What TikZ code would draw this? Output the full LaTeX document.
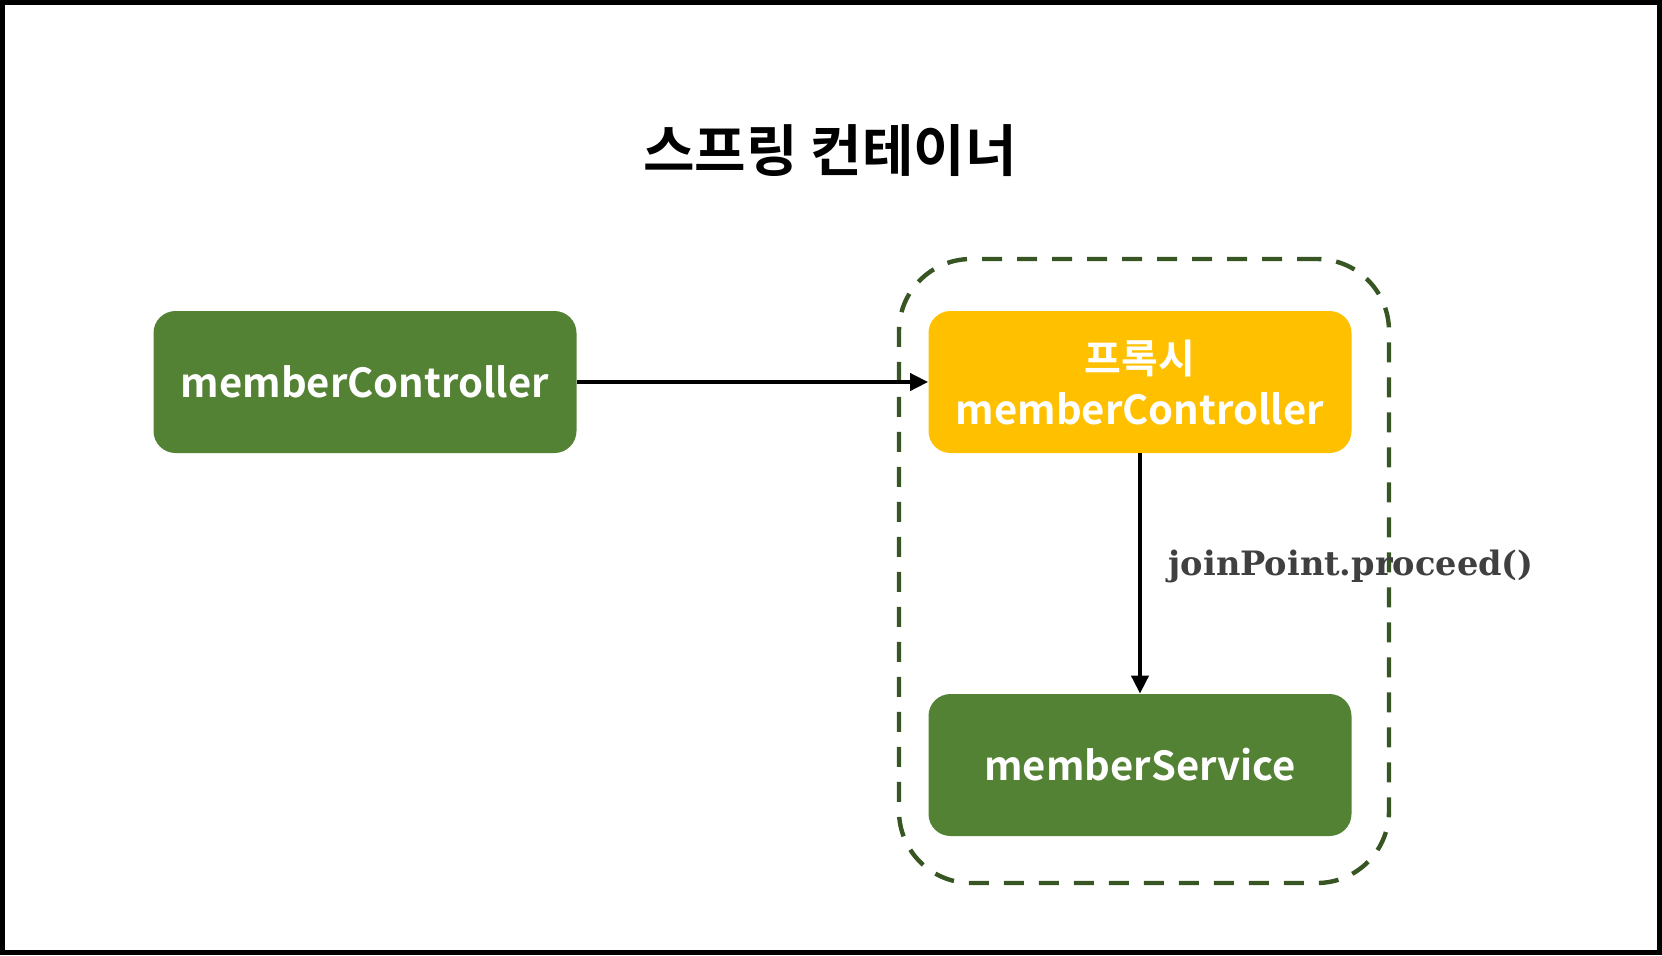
\documentclass[tikz,border=0pt]{standalone}
\usepackage{fontspec}
\setmainfont{Noto Sans CJK KR}[BoldFont={Noto Sans CJK KR Bold}]
\newfontfamily\codefont{DejaVu Serif}
\usetikzlibrary{arrows.meta}
\definecolor{beangreen}{HTML}{548235}
\definecolor{proxyyellow}{HTML}{FFC000}
\definecolor{darkgreen}{HTML}{375623}
\definecolor{codegray}{HTML}{404040}
\begin{document}
\begin{tikzpicture}[
	x=0.5pt, y=-0.5pt,
	bean/.style={ fill=beangreen, rounded corners=11pt, minimum width=211.5pt, minimum height=71pt, inner sep=0pt, text=white, font=\bfseries\fontsize{20}{25.5}\selectfont, align=center },
	proxybean/.style={ bean, fill=proxyyellow },
	calls/.style={ -{Triangle[length=9pt,width=8.5pt]}, line width=2pt }
]
\useasboundingbox (0,0) rectangle (1662,955);
\draw[line width=2.5pt] (2.5,2.5) rectangle (1659.5,952.5);

% title
\node at (830,151) (title) [font=\bfseries\fontsize{28}{32}\selectfont] {스프링 컨테이너};

% container of the proxy
\node at (1144,571) (container) [draw=darkgreen, line width=2.2pt, dash pattern=on 10pt off 7.5pt, rounded corners=36pt, minimum width=245pt, minimum height=312pt] {};

% beans
\node at (365,382) (controller) [bean] {memberController};
\node at (1140,382) (proxy) [proxybean] {프록시\\memberController};
\node at (1140,765) (service) [bean] {memberService};

\draw[calls] (controller) to (proxy);
\draw[calls] (proxy) to node[right, pos=0.47, xshift=10pt, text=codegray, font=\codefont\bfseries\fontsize{16.8}{18}\selectfont] {joinPoint.proceed()} (service);

\end{tikzpicture}
\end{document}
